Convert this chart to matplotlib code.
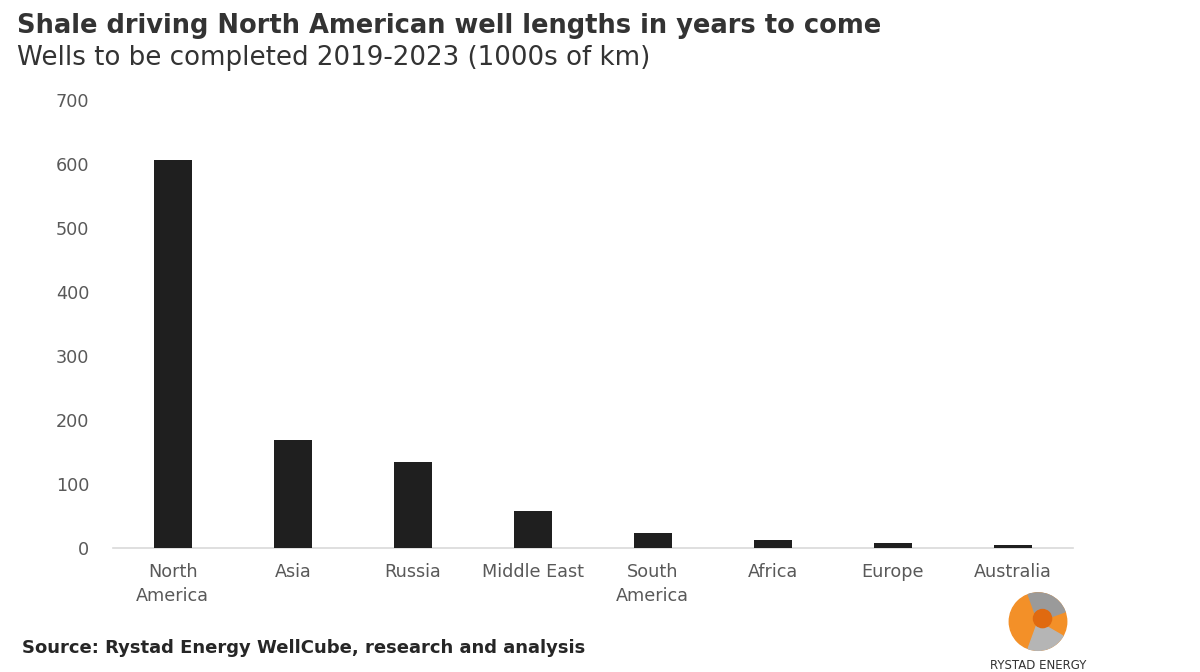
import numpy as np
import matplotlib.pyplot as plt
from matplotlib.patches import Wedge, Circle

# data
regions = ["North\nAmerica", "Asia", "Russia", "Middle East", "South\nAmerica",
           "Africa", "Europe", "Australia"]
km_thousands = [606, 169, 134, 58, 23, 12, 8, 4.5]
yticks = [0, 100, 200, 300, 400, 500, 600, 700]

plt.rcParams['font.family'] = ['DejaVu Sans']

fig = plt.figure(figsize=(12, 6.72), dpi=100)
ax = fig.add_axes([0.094, 0.1845, 0.80, 0.6665])

x = np.arange(len(regions))
ax.bar(x, km_thousands, width=0.32, color="#1f1f1f", zorder=3)

ax.set_xlim(-0.5, len(regions) - 0.5)
ax.set_ylim(0, 700)
ax.set_yticks(yticks)
ax.set_xticks(x)
ax.set_xticklabels(regions, fontsize=12.7, color="#595959", linespacing=1.4)
ax.tick_params(axis="y", labelsize=12.7, labelcolor="#595959", length=0, pad=17)
ax.tick_params(axis="x", length=0, pad=11)

for s in ["top", "right", "left"]:
    ax.spines[s].set_visible(False)
ax.spines["bottom"].set_color("#d9d9d9")
ax.spines["bottom"].set_linewidth(1.2)

fig.text(0.014, 0.962, "Shale driving North American well lengths in years to come",
         fontsize=18.5, fontweight="bold", color="#333333", va="center")
fig.text(0.014, 0.914, "Wells to be completed 2019-2023 (1000s of km)",
         fontsize=18.8, color="#333333", va="center")
fig.text(0.018, 0.036, "Source: Rystad Energy WellCube, research and analysis",
         fontsize=13, fontweight="bold", color="#262626", va="center")

# simple logo
lax = fig.add_axes([0.835, 0.03, 0.06, 0.09])
lax.set_xlim(-1, 1)
lax.set_ylim(-1, 1)
lax.set_aspect("equal")
lax.axis("off")
lax.add_patch(Circle((0, 0), 0.95, color="#f39028"))
lax.add_patch(Wedge((0, 0), 0.95, 20, 110, color="#9a9a9a"))
lax.add_patch(Wedge((0, 0), 0.95, 250, 330, color="#b5b5b5"))
lax.add_patch(Circle((0.15, 0.1), 0.3, color="#e06a10"))
fig.text(0.865, 0.01, "RYSTAD ENERGY", fontsize=8.5, color="#333333",
         ha="center", va="center")

fig.savefig("out.png", dpi=100)
